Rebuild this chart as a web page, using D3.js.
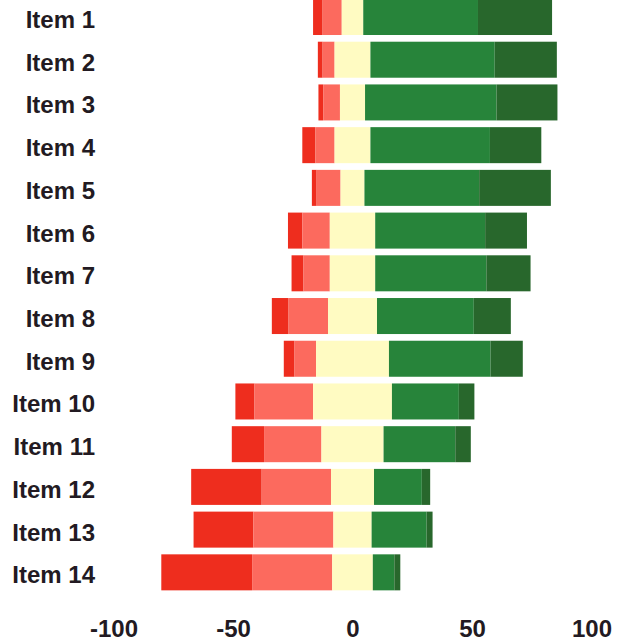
<!DOCTYPE html>
<html>
<head>
<meta charset="utf-8">
<script src="https://cdn.jsdelivr.net/npm/d3@7"></script>
<style>
  html, body { margin: 0; padding: 0; background: #fff; }
  svg { display: block; }
</style>
</head>
<body>
<script>
// ---- data (percent of responses) ----
const items = ["Item 1","Item 2","Item 3","Item 4","Item 5","Item 6","Item 7",
               "Item 8","Item 9","Item 10","Item 11","Item 12","Item 13","Item 14"];
const stronglyNeg = [4, 2, 2, 5.5, 2, 6, 5, 7, 4.5, 8, 13.5, 29.5, 25, 38];
const negative    = [8, 5, 7, 8, 10, 11.5, 11, 16.5, 9, 24.5, 24, 29, 33.5, 33.5];
const neutral     = [9, 15, 10.5, 15, 10, 19, 19, 20.5, 30.5, 33, 26, 18, 16, 17];
const positive    = [48, 52, 55, 50, 48, 46, 46.5, 40.5, 42.5, 28, 30, 20, 23, 9];
const stronglyPos = [31, 26, 25.5, 21.5, 30, 17.5, 18.5, 15.5, 13.5, 6.5, 6.5, 3.5, 2.5, 2.5];
const tickValues  = [-100, -50, 0, 50, 100];

const colors = ["#ee2d1e", "#fc6a5e", "#fffbc2", "#27843a", "#28672c"];

// ---- layout ----
const W = 620, H = 641;
const svg = d3.select("body").append("svg").attr("width", W).attr("height", H);

const x = d3.scaleLinear().domain([-100, 100]).range([113.5, 591.5]);
const y = d3.scaleBand().domain(items).range([-4.36, 593.7])
  .paddingInner(0.157).paddingOuter(0.0785);

// build segments: neutral centred on zero
const rows = items.map((name, i) => {
  const sn = stronglyNeg[i], n = negative[i], z = neutral[i], p = positive[i], sp = stronglyPos[i];
  const nStart = -z / 2;
  const segs = [
    { x0: nStart - n - sn, x1: nStart - n, c: 0 },
    { x0: nStart - n,      x1: nStart,     c: 1 },
    { x0: nStart,          x1: z / 2,      c: 2 },
    { x0: z / 2,           x1: z / 2 + p,  c: 3 },
    { x0: z / 2 + p,       x1: z / 2 + p + sp, c: 4 }
  ];
  return { name, segs };
});

const g = svg.append("g");
const rowG = g.selectAll("g.row").data(rows).join("g").attr("class", "row")
  .attr("transform", d => `translate(0,${y(d.name)})`);

rowG.selectAll("rect").data(d => d.segs).join("rect")
  .attr("x", d => x(d.x0))
  .attr("width", d => x(d.x1) - x(d.x0))
  .attr("y", 0)
  .attr("height", y.bandwidth())
  .attr("fill", d => colors[d.c]);

// item labels
svg.append("g").selectAll("text").data(items).join("text")
  .attr("x", 95)
  .attr("y", d => y(d) + y.bandwidth() / 2 + 11)
  .attr("text-anchor", "end")
  .attr("font-family", "Liberation Sans, Arial, sans-serif")
  .attr("font-weight", "bold")
  .attr("font-size", 24)
  .attr("fill", "#221a22")
  .text(d => d);

// x axis (labels only)
const axis = d3.axisBottom(x).tickValues(tickValues).tickSize(0).tickPadding(0)
  .tickFormat(d => String(d));
const ax = svg.append("g").attr("transform", "translate(0,619)").call(axis);
ax.select(".domain").remove();
ax.selectAll("text")
  .attr("y", 18)
  .attr("dy", 0)
  .attr("font-family", "Liberation Sans, Arial, sans-serif")
  .attr("font-weight", "bold")
  .attr("font-size", 24)
  .attr("fill", "#221a22");
</script>
</body>
</html>
